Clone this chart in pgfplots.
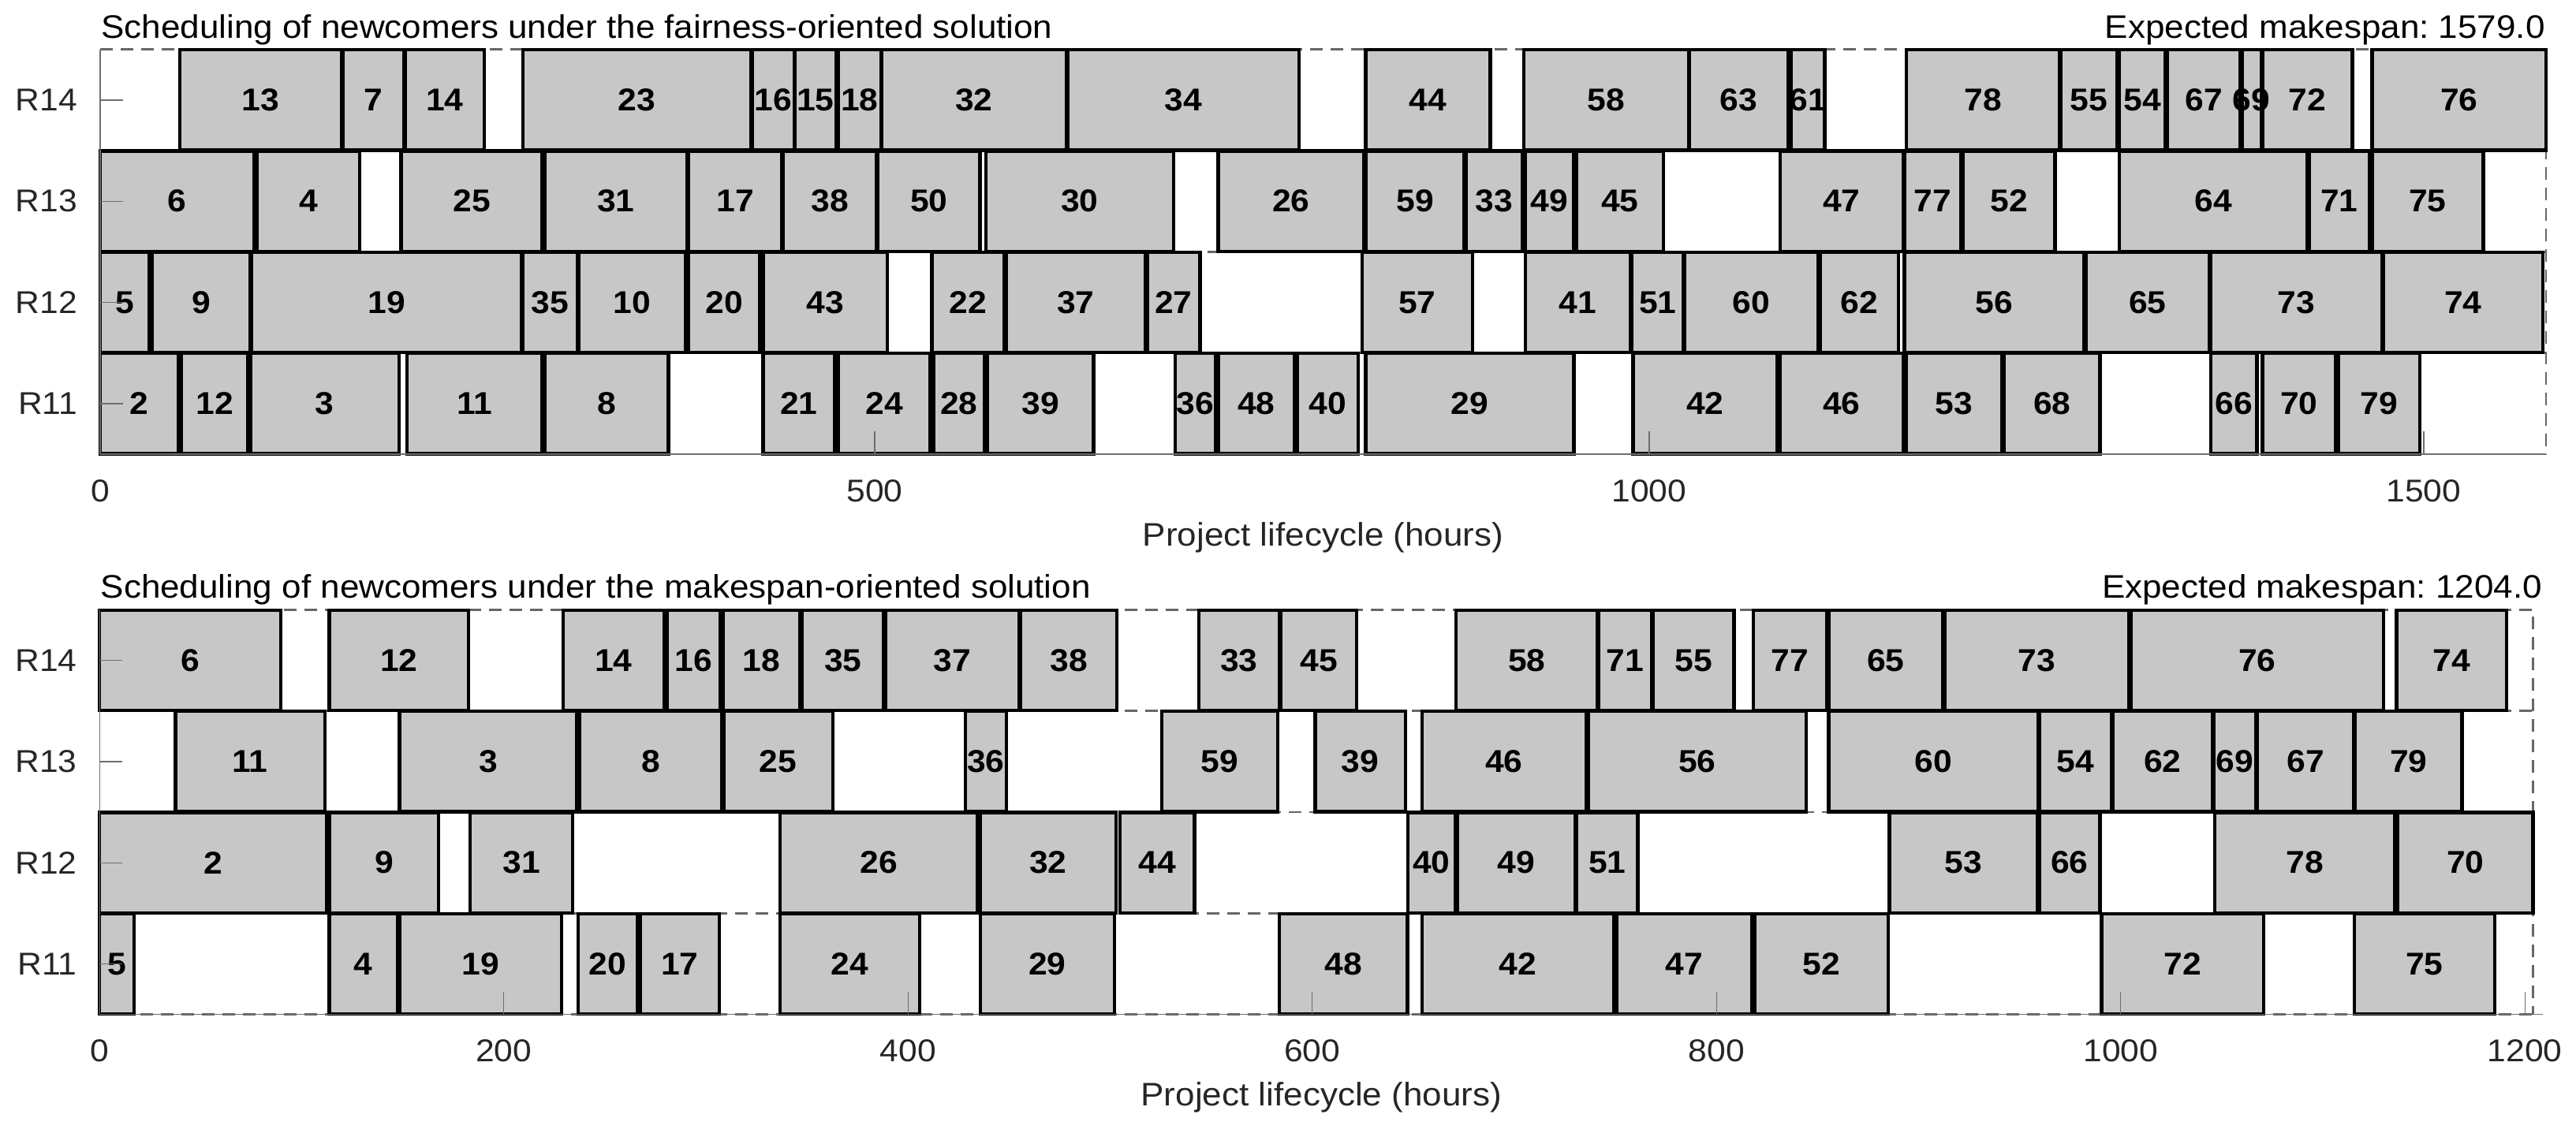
\documentclass[border=0pt]{standalone}
\usepackage{fontspec}
\setmainfont{Liberation Sans}[FakeStretch=1.065]
\usepackage{pgfplots}
\pgfplotsset{compat=1.18}
\definecolor{barfill}{RGB}{199,199,199}
\definecolor{axgray}{RGB}{110,110,110}
\definecolor{txt}{RGB}{38,38,38}
\tikzset{
  gbar/.style={fill=barfill, draw=black, line width=0.65pt, mark=none},
  glab/.style={font=\fontsize{6.0}{7}\selectfont\bfseries, inner sep=0pt, text=black},
  gdash/.style={draw=black!60, line width=0.4pt, dash pattern=on 2.4pt off 1.5pt, mark=none},
}
% start/end/row/label
\def\topbars{51.4/155.7/4/13, 156.8/196/4/7, 197/248/4/14, 273/420/4/23, 421/448/4/16, 448.6/475/4/15, 476.4/504/4/18, 504.6/623.6/4/32, 624.6/774/4/34, 817/897.5/4/44, 919/1025.4/4/58, 1026/1089.8/4/63, 1091.6/1113.4/4/61, 1166/1265/4/78, 1266/1302/4/55, 1303.6/1333/4/54, 1334.5/1381.6/4/67, 1382.7/1395/4/69, 1396/1454/4/72, 1466.7/1579/4/76,
0/99.6/3/6, 101.4/167.5/3/4, 194.3/285.4/3/25, 287/379/3/31, 380/440/3/17, 441/501/3/38, 502/568/3/50, 571.8/693/3/30, 721.8/815.7/3/26, 817/880.7/3/59, 881.8/918/3/33, 920/951.4/3/49, 952.9/1009.3/3/45, 1084.4/1164/3/47, 1164.8/1201/3/77, 1202.5/1262/3/52, 1303.6/1425/3/64, 1426/1465/3/71, 1466.7/1538.5/3/75,
0/31.8/2/5, 33.6/96.8/2/9, 97.9/272/2/19, 273/308/2/35, 309/378/2/10, 380/426/2/20, 428/508/2/43, 537/583.6/2/22, 585/674.6/2/37, 676/710/2/27, 814.6/886/2/57, 920/988/2/41, 989/1022/2/51, 1023/1109/2/60, 1110.5/1161/2/62, 1164.8/1280.8/2/56, 1282/1361.6/2/65, 1362.7/1473/2/73, 1474/1577/2/74,
0/50.7/1/2, 52.5/95.4/1/12, 97/193/1/3, 198/285.4/1/11, 287/366.8/1/8, 428/474/1/21, 476.4/536/1/24, 538/571/1/28, 573/641.4/1/39, 694/720/1/36, 721.8/771/1/48, 772.9/812/1/40, 817/951.4/1/29, 989.6/1082.6/1/42, 1084.4/1164/1/46, 1166/1227.5/1/53, 1229.3/1291/1/68, 1362.7/1392.4/1/66, 1396/1443/1/70, 1445/1497.6/1/79}
\def\botbars{0/89.5/4/6, 113.6/182.6/4/12, 229.4/279.2/4/14, 280.6/307.1/4/16, 308.5/346.3/4/18, 347.7/387.9/4/35, 388.7/455/4/37, 455.8/503.4/4/38, 543.9/583.6/4/33, 584.4/622/4/45, 671.2/741/4/58, 741.8/767.8/4/71, 768.7/808.6/4/55, 818.3/854.4/4/77, 855.5/912/4/65, 912.8/1004/4/73, 1005/1130/4/76, 1136.4/1191/4/74,
37.5/111.4/3/11, 148.4/236.2/3/3, 237.3/308/3/8, 308.8/362.7/3/25, 428.4/448.6/3/36, 525.6/582.8/3/59, 601.4/646/3/39, 654.2/735.5/3/46, 736.4/844.4/3/56, 855.5/959.1/3/60, 959.7/995.3/3/54, 996.1/1045.3/3/62, 1046/1067/3/69, 1067.5/1115.3/3/67, 1116/1168.9/3/79,
0/112.2/2/2, 113.6/167.8/2/9, 183.4/234/2/31, 336.7/434.4/2/26, 435.8/502.8/2/32, 504.8/541.7/2/44, 647.4/670.6/2/40, 672/730/2/49, 730.9/761/2/51, 885.5/958.6/2/53, 959.7/989.7/2/66, 1046.6/1135.5/2/78, 1137/1204/2/70,
0/17/1/5, 113.6/147.3/1/4, 148.6/228.6/1/19, 236.8/266/1/20, 267.5/306.6/1/17, 336.7/405.7/1/24, 435.8/502/1/29, 583.6/647.1/1/48, 654.2/749.2/1/42, 750.6/817.5/1/47, 818.9/885/1/52, 990.5/1070.8/1/72, 1115.5/1185/1/75}
\newcommand\ganttbars[1]{%
  \foreach \sa/\sb/\rw/\lb in #1{%
    \pgfmathsetmacro\ya{\rw-0.495}%
    \pgfmathsetmacro\yb{\rw+0.495}%
    \edef\tmp{\noexpand\addplot[gbar] coordinates {(\sa,\ya) (\sb,\ya) (\sb,\yb) (\sa,\yb)} -- cycle;}%
    \tmp
  }%
}
\newcommand\ganttlabels[1]{%
  \foreach \sa/\sb/\rw/\lb in #1{%
    \pgfmathsetmacro\xm{(\sa+\sb)/2}%
    \edef\tmp{\noexpand\node[glab] at (axis cs:\xm,\rw) {\lb};}%
    \tmp
  }%
}
\pgfplotsset{gantt/.style={
  scale only axis, height=77pt, anchor=south west,
  xmin=0, ymin=0.5, ymax=4.5,
  axis x line*=bottom, axis y line*=left,
  axis line style={axgray, line width=0.2pt},
  every tick/.style={axgray, line width=0.2pt},
  major tick length=4.3pt,
  tick align=inside,
  ytick={1,2,3,4}, yticklabels={R11,R12,R13,R14},
  ticklabel style={font=\fontsize{6.0}{7.2}\selectfont, text=txt},
  yticklabel style={xshift=-0.8pt},
  xticklabel style={anchor=base, yshift=-9pt},
  xlabel={Project lifecycle (hours)},
  xlabel style={at={(axis description cs:0.5,0)}, anchor=base, yshift=-17.4pt, font=\fontsize{6.2}{7.4}\selectfont, text=txt},
  axis on top,
  clip=false,
  /pgf/number format/assume math mode=true,
}}
\begin{document}
\begin{tikzpicture}
\useasboundingbox (0,0) rectangle (489.9pt,215.4pt);
% ---------------- top panel ----------------
\begin{axis}[gantt, at={(19.05pt,129pt)}, width=465.15pt, xmax=1579,
  xtick={0,500,1000,1500}, xticklabels={0,500,1000,1500}]
\addplot[gdash] coordinates {(0,4.5) (1579,4.5) (1579,0.5)};
\addplot[gdash] coordinates {(0,3.5) (1579,3.5)};
\addplot[gdash] coordinates {(0,2.5) (1579,2.5)};
\addplot[gdash] coordinates {(0,1.5) (1579,1.5)};
\addplot[gdash] coordinates {(0,0.5) (1579,0.5)};
\ganttbars{\topbars}
\ganttlabels{\topbars}
\node[anchor=base west, inner sep=0pt, yshift=2.2pt, font=\fontsize{6.2}{7.4}\selectfont] at (rel axis cs:0,1) {Scheduling of newcomers under the fairness-oriented solution};
\node[anchor=base east, inner sep=0pt, yshift=2.2pt, font=\fontsize{6.2}{7.4}\selectfont] at (rel axis cs:1,1) {Expected makespan:\ 1579.0};
\end{axis}
% ---------------- bottom panel ----------------
\begin{axis}[gantt, at={(18.95pt,22.4pt)}, width=464.7pt, xmax=1209,
  xtick={0,200,400,600,800,1000,1200}, xticklabels={0,200,400,600,800,1000,1200}]
\addplot[gdash] coordinates {(0,4.5) (1204,4.5) (1204,0.5)};
\addplot[gdash] coordinates {(0,3.5) (1204,3.5)};
\addplot[gdash] coordinates {(0,2.5) (1204,2.5)};
\addplot[gdash] coordinates {(0,1.5) (1204,1.5)};
\addplot[gdash] coordinates {(0,0.5) (1204,0.5)};
\ganttbars{\botbars}
\ganttlabels{\botbars}
\node[anchor=base west, inner sep=0pt, yshift=2.2pt, font=\fontsize{6.2}{7.4}\selectfont] at (rel axis cs:0,1) {Scheduling of newcomers under the makespan-oriented solution};
\node[anchor=base east, inner sep=0pt, yshift=2.2pt, font=\fontsize{6.2}{7.4}\selectfont] at (rel axis cs:1,1) {Expected makespan:\ 1204.0};
\end{axis}
\end{tikzpicture}
\end{document}
